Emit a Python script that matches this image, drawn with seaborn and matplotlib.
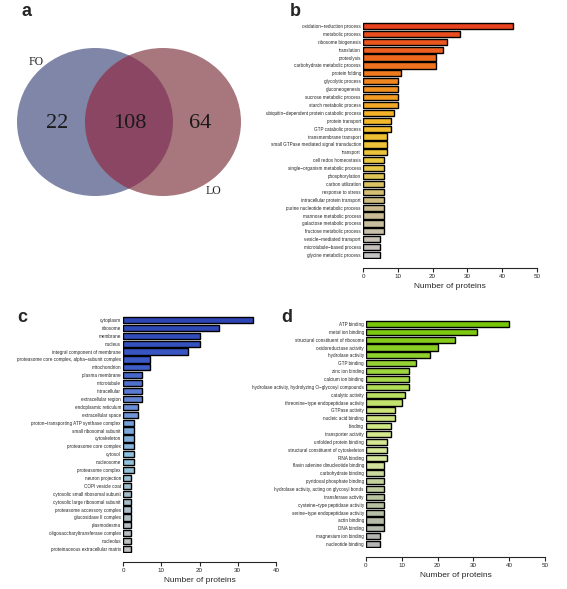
import matplotlib
matplotlib.use('Agg')
import matplotlib.pyplot as plt
import seaborn as sns
import pandas as pd
from matplotlib.patches import Ellipse
from matplotlib.colors import LinearSegmentedColormap

## datos

venn_sets = ['FO', 'LO']
venn_counts = [22, 108, 64]   # solo FO, ambos, solo LO

bp_terms = ['oxidation\u2212reduction process', 'metabolic process', 'ribosome biogenesis',
            'translation', 'proteolysis', 'carbohydrate metabolic process', 'protein folding',
            'glycolytic process', 'gluconeogenesis', 'sucrose metabolic process',
            'starch metabolic process', 'ubiquitin\u2212dependent protein catabolic process',
            'protein transport', 'GTP catabolic process', 'transmembrane transport',
            'small GTPase mediated signal transduction', 'transport', 'cell redox homeostasis',
            'single\u2212organism metabolic process', 'phosphorylation', 'carbon utilization',
            'response to stress', 'intracellular protein transport',
            'purine nucleotide metabolic process', 'mannose metabolic process',
            'galactose metabolic process', 'fructose metabolic process',
            'vesicle\u2212mediated transport', 'microtubule\u2212based process',
            'glycine metabolic process']
bp_counts = [43, 28, 24, 23, 21, 21, 11, 10, 10, 10, 10, 9, 8, 8, 7, 7, 7,
             6, 6, 6, 6, 6, 6, 6, 6, 6, 6, 5, 5, 5]

cc_terms = ['cytoplasm', 'ribosome', 'membrane', 'nucleus', 'integral component of membrane',
            'proteasome core complex, alpha\u2212subunit complex', 'mitochondrion',
            'plasma membrane', 'microtubule', 'intracellular', 'extracellular region',
            'endoplasmic reticulum', 'extracellular space',
            'proton\u2212transporting ATP synthase complex', 'small ribosomal subunit',
            'cytoskeleton', 'proteasome core complex', 'cytosol', 'nucleosome',
            'proteasome complex', 'neuron projection', 'COPI vesicle coat',
            'cytosolic small ribosomal subunit', 'cytosolic large ribosomal subunit',
            'proteasome accessory complex', 'glucosidase II complex', 'plasmodesma',
            'oligosaccharyltransferase complex', 'nucleolus',
            'proteinaceous extracellular matrix']
cc_counts = [34, 25, 20, 20, 17, 7, 7, 5, 5, 5, 5, 4, 4, 3, 3, 3, 3, 3, 3, 3,
             2, 2, 2, 2, 2, 2, 2, 2, 2, 2]

mf_terms = ['ATP binding', 'metal ion binding', 'structural constituent of ribosome',
            'oxidoreductase activity', 'hydrolase activity', 'GTP binding', 'zinc ion binding',
            'calcium ion binding', 'hydrolase activity, hydrolyzing O\u2212glycosyl compounds',
            'catalytic activity', 'threonine\u2212type endopeptidase activity', 'GTPase activity',
            'nucleic acid binding', 'binding', 'transporter activity', 'unfolded protein binding',
            'structural constituent of cytoskeleton', 'RNA binding',
            'flavin adenine dinucleotide binding', 'carbohydrate binding',
            'pyridoxal phosphate binding', 'hydrolase activity, acting on glycosyl bonds',
            'transferase activity', 'cysteine\u2212type peptidase activity',
            'serine\u2212type endopeptidase activity', 'actin binding', 'DNA binding',
            'magnesium ion binding', 'nucleotide binding']
mf_counts = [40, 31, 25, 20, 18, 14, 12, 12, 12, 11, 10, 8, 8, 7, 7, 6, 6, 6,
             5, 5, 5, 5, 5, 5, 5, 5, 5, 4, 4]

sns.set_style('ticks')
plt.rcParams['font.family'] = ['Liberation Sans', 'DejaVu Sans']

W, H = 567, 589
fig = plt.figure(figsize=(W / 100, H / 100), dpi=100)


def rect_px(x0, y0, x1, y1):
    # caja en pixeles (origen arriba a la izquierda) -> fraccion de figura
    return [x0 / W, 1 - y1 / H, (x1 - x0) / W, (y1 - y0) / H]


def bar_panel(rect, terms, counts, anchors, xmax):
    ax = fig.add_axes(rect)
    df = pd.DataFrame({'term': terms, 'n': counts})
    cmap = LinearSegmentedColormap.from_list('grad', anchors)
    cols = [cmap(i / (len(terms) - 1)) for i in range(len(terms))]
    sns.barplot(data=df, x='n', y='term', hue='term', palette=cols, legend=False,
                orient='h', width=0.78, edgecolor='black', linewidth=1.0,
                saturation=1, ax=ax)
    ax.set_xlim(0, xmax)
    ax.set_ylim(len(terms) - 0.5, -0.5)
    ax.set_xticks(range(0, xmax + 1, 10))
    ax.tick_params(axis='x', labelsize=4.5, width=0.8, length=3, pad=1.5)
    ax.tick_params(axis='y', labelsize=3.3, length=0, pad=1.5)
    ax.set_ylabel('')
    ax.set_xlabel('Number of proteins', fontsize=6, labelpad=3)
    sns.despine(ax=ax, left=True, offset={'bottom': 6.5})
    ax.spines['bottom'].set_linewidth(0.8)
    return ax


## a: diagrama de Venn
axv = fig.add_axes(rect_px(0, 0, 283.5, 294.5))
axv.set_xlim(0, 283.5)
axv.set_ylim(294.5, 0)
axv.axis('off')
left = Ellipse((95, 122), 156, 148, facecolor='#7F86A8', edgecolor='none')
right = Ellipse((163, 122), 156, 148, facecolor='#A7777D', edgecolor='none')
axv.add_patch(left)
axv.add_patch(right)
inter = Ellipse((163, 122), 156, 148, facecolor='#8A4662', edgecolor='none')
axv.add_patch(inter)
inter.set_clip_path(left)
for x, v in zip([57, 130, 200], venn_counts):
    axv.text(x, 124, str(v), fontsize=16, family='Liberation Serif',
             ha='center', va='center', color='#1a1a1a')
axv.text(36, 62, venn_sets[0], fontsize=8.5, family='Liberation Serif', ha='center', va='center')
axv.text(213, 191, venn_sets[1], fontsize=8.5, family='Liberation Serif', ha='center', va='center')

## b, c, d: barras
bar_panel(rect_px(363, 22, 537, 259), bp_terms, bp_counts,
          ['#E8431E', '#F07A1E', '#F4B829', '#E8C842', '#C9BA8E', '#C4C4C4'], 50)
bar_panel(rect_px(123, 316, 276, 553), cc_terms, cc_counts,
          ['#2D45B5', '#3D5CC6', '#6F93D8', '#8EC3DC', '#A8BCC8', '#C2C2C2'], 40)
bar_panel(rect_px(366, 320, 545, 548), mf_terms, mf_counts,
          ['#78C60A', '#9AD43A', '#CDE67C', '#D8E89C', '#B8C2A0', '#B4B4B4'], 50)

for x, y, s in [(27, 12, 'a'), (295, 12, 'b'), (22, 318, 'c'), (287, 318, 'd')]:
    fig.text(x / W, 1 - y / H, s, fontsize=13, fontweight='bold', ha='center', va='center')

fig.savefig('out.png', dpi=100)
